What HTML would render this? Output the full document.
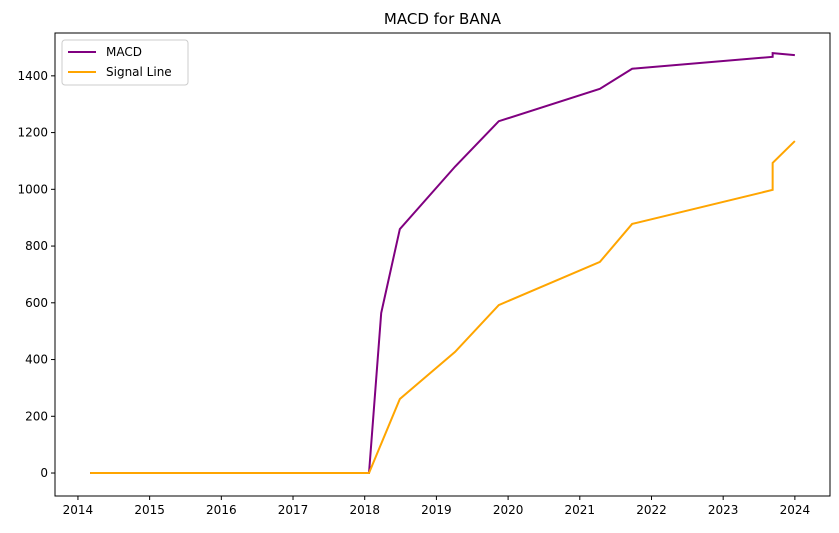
<!DOCTYPE html>
<html><head><meta charset="utf-8"><style>
body{margin:0;background:#fff;font-family:"Liberation Sans","DejaVu Sans",sans-serif}
svg text{font-family:"DejaVu Sans","Liberation Sans",sans-serif}
</style></head><body>
<svg id="c" width="839" height="528"></svg>
<script>
const macdX=[2014.17,2018.06,2018.23,2018.49,2019.26,2019.87,2021.28,2021.73,2023.69,2023.69,2024.0];
const macdY=[0,0,564,860,1080,1240,1354,1425,1467,1480,1473];
const sigX=[2014.17,2018.06,2018.49,2019.26,2019.87,2021.28,2021.73,2023.69,2023.69,2024.0];
const sigY=[0,0,261,427,592,744,878,998,1093,1170];
const xTicks=[2014,2015,2016,2017,2018,2019,2020,2021,2022,2023,2024];
const yTicks=[0,200,400,600,800,1000,1200,1400];
const L=55,R=830,T=33,B=496,x0=2013.68,x1=2024.49,y0=-81,y1=1551;
const sx=v=>L+(v-x0)/(x1-x0)*(R-L), sy=v=>B-(v-y0)/(y1-y0)*(B-T);
const svg=document.getElementById('c');const NS='http://www.w3.org/2000/svg';
function mk(t,a,p){const e=document.createElementNS(NS,t);for(const k in a)e.setAttribute(k,a[k]);(p||svg).appendChild(e);return e;}
let t=mk('text',{x:(L+R)/2,y:24,'text-anchor':'middle','font-size':15});t.textContent='MACD for BANA';


xTicks.forEach(v=>{const g=mk('g',{});


mk('line',{x1:sx(v),x2:sx(v),y1:B,y2:B+4,stroke:'#000'},g);
const s=mk('text',{x:sx(v),y:B+18,'text-anchor':'middle','font-size':12},g);s.textContent=v;});
yTicks.forEach(v=>{const g=mk('g',{});


mk('line',{x1:L-4,x2:L,y1:sy(v),y2:sy(v),stroke:'#000'},g);
const s=mk('text',{x:L-7,y:sy(v)+4,'text-anchor':'end','font-size':12},g);s.textContent=v;});
function line(xs,ys,col,name){const p=mk('polyline',{points:xs.map((x,i)=>sx(x)+','+sy(ys[i])).join(' '),fill:'none',stroke:col,'stroke-width':2});

}
line(macdX,macdY,'purple','macd-line');
line(sigX,sigY,'orange','signal-line');
const fr=mk('rect',{x:L,y:T,width:R-L,height:B-T,fill:'none',stroke:'#000','stroke-width':1});


const lg=mk('g',{});


mk('rect',{x:62,y:40,width:126,height:45,rx:3,fill:'#fff',stroke:'#ccc'},lg);
[['MACD','purple',52],['Signal Line','orange',72]].forEach(([n,c,y])=>{
const e=mk('g',{},lg);


mk('line',{x1:68,x2:96,y1:y,y2:y,stroke:c,'stroke-width':2},e);
const s=mk('text',{x:106,y:y+4,'font-size':12},e);s.textContent=n;});
</script>
</body></html>
